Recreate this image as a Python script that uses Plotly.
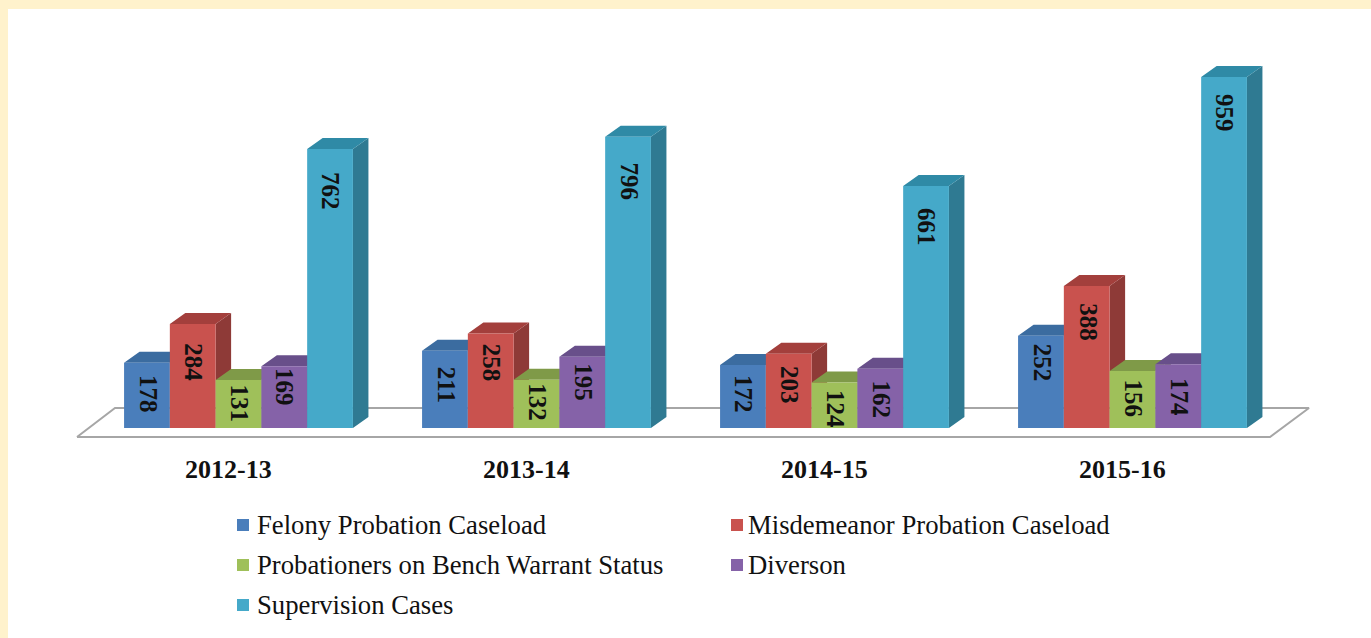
import plotly.graph_objects as go

# ---- data ----
YEARS = ["2012-13", "2013-14", "2014-15", "2015-16"]
SERIES = ["Felony Probation Caseload", "Misdemeanor Probation Caseload",
          "Probationers on Bench Warrant Status", "Diverson", "Supervision Cases"]
FELONY = [178, 211, 172, 252]
MISDEMEANOR = [284, 258, 203, 388]
BENCH_WARRANT = [131, 132, 124, 156]
DIVERSION = [169, 195, 162, 174]
SUPERVISION = [762, 796, 661, 959]
VALUES = [FELONY, MISDEMEANOR, BENCH_WARRANT, DIVERSION, SUPERVISION]

# ---- style ----
FRONT = ["#4A7EBB", "#C9524E", "#9FC05A", "#8562A8", "#45A9C9"]
TOP = ["#3B6CA0", "#A33F3C", "#7F9A48", "#684F8A", "#2F8AA6"]
SIDE = ["#33597F", "#8E3A37", "#6E8640", "#5A4478", "#2F7A92"]
# how far each value label sits below its bar top, in pixels
LABEL_DROP = [
    [31, 34, 29, 27],
    [38, 29, 31, 36],
    [23, 22, 26, 27],
    [21, 26, 31, 33],
    [42, 45, 41, 36],
]

W, H = 1371, 638
ML, MT = 8, 9
PX_X = 298.0      # pixels per category
PX_Y = 0.366      # pixels per value unit
X0_PX, Y0_PX = 238.5, 428.0
x_range = [(ML - X0_PX) / PX_X, (W - X0_PX) / PX_X]
y_range = [-(H - Y0_PX) / PX_Y, (Y0_PX - MT) / PX_Y]

GAP = 0.232
BAR_W = (1 - GAP) / len(SERIES)
DX = 15.5 / PX_X
DY = 11 / PX_Y
idx = list(range(len(YEARS)))


def left(g, s):
    return g - (1 - GAP) / 2 + s * BAR_W


fig = go.Figure()

# floor
fx = [(x - X0_PX) / PX_X for x in (77, 115, 1309, 1270, 77)]
fy = [-9 / PX_Y, 20 / PX_Y, 20 / PX_Y, -9 / PX_Y, -9 / PX_Y]
fig.add_trace(go.Scatter(x=fx, y=fy, mode="lines", fill="toself", fillcolor="#FFFFFF",
                         line=dict(color="#A6A6A6", width=2), hoverinfo="skip", showlegend=False))

# depth faces, left to right so that later bars overlap earlier ones
for s, vals in enumerate(VALUES):
    sx, sy, tx, ty = [], [], [], []
    for g, v in zip(idx, vals):
        x0, x1 = left(g, s), left(g, s) + BAR_W
        sx += [x1, x1 + DX, x1 + DX, x1, x1, None]
        sy += [v, v + DY, DY, 0, v, None]
        tx += [x0, x0 + DX, x1 + DX, x1, x0, None]
        ty += [v, v + DY, v + DY, v, v, None]
    fig.add_trace(go.Scatter(x=sx, y=sy, mode="lines", fill="toself", fillcolor=SIDE[s],
                             line=dict(width=0, color=SIDE[s]), hoverinfo="skip", showlegend=False))
    fig.add_trace(go.Scatter(x=tx, y=ty, mode="lines", fill="toself", fillcolor=TOP[s],
                             line=dict(width=0, color=TOP[s]), hoverinfo="skip", showlegend=False))

# front faces on an overlaid subplot, so they cover the depth faces
for s, vals in enumerate(VALUES):
    fig.add_trace(go.Bar(x=idx, y=vals, name=SERIES[s], xaxis="x2", yaxis="y2",
                         marker=dict(color=FRONT[s], line=dict(width=0)), showlegend=False))

annotations = []
for s, vals in enumerate(VALUES):
    for g, v in zip(idx, vals):
        annotations.append(dict(x=left(g, s) + BAR_W / 2, y=v, xref="x2", yref="y2", text=str(v),
                                textangle=90, showarrow=False, yshift=-LABEL_DROP[s][g], xshift=1,
                                yanchor="middle", xanchor="center",
                                font=dict(family="Liberation Serif", size=25, color="#111111", weight="bold")))
for g, year in zip(idx, YEARS):
    annotations.append(dict(x=g, y=0, xref="x2", yref="y2", text=year, showarrow=False,
                            xshift=-10, yshift=-41, yanchor="middle", xanchor="center",
                            font=dict(family="Liberation Serif", size=26, color="#111111", weight="bold")))

# legend, laid out in two columns
LEG_X = [237, 731]
LEG_TEXT_X = [255, 746]
LEG_Y = [525, 565, 605]
shapes = []
for s, name in enumerate(SERIES):
    lx, tx0, ly = LEG_X[s % 2], LEG_TEXT_X[s % 2], LEG_Y[s // 2]
    shapes.append(dict(type="rect", xref="paper", yref="paper", line=dict(width=0), fillcolor=FRONT[s],
                       x0=(lx - ML) / (W - ML), x1=(lx + 12 - ML) / (W - ML),
                       y0=(H - ly - 6) / (H - MT), y1=(H - ly + 6) / (H - MT)))
    annotations.append(dict(x=(tx0 - ML) / (W - ML), y=(H - ly) / (H - MT), xref="paper", yref="paper",
                            text=name, showarrow=False, xanchor="left", yanchor="middle",
                            font=dict(family="Liberation Serif", size=26.7, color="#111111")))

axis_off = dict(visible=False, fixedrange=True)
fig.update_layout(
    width=W, height=H,
    margin=dict(l=ML, r=0, t=MT, b=0, pad=0),
    paper_bgcolor="#FFF2CC", plot_bgcolor="#FFFFFF",
    barmode="group", bargap=GAP, bargroupgap=0,
    showlegend=False, annotations=annotations, shapes=shapes,
    xaxis=dict(range=x_range, **axis_off),
    yaxis=dict(range=y_range, **axis_off),
    xaxis2=dict(range=x_range, overlaying="x", **axis_off),
    yaxis2=dict(range=y_range, overlaying="y", **axis_off),
)
fig.write_html("out.html", config={"displayModeBar": False},
               post_script="document.body.style.margin='0';document.documentElement.style.overflow='hidden';")
